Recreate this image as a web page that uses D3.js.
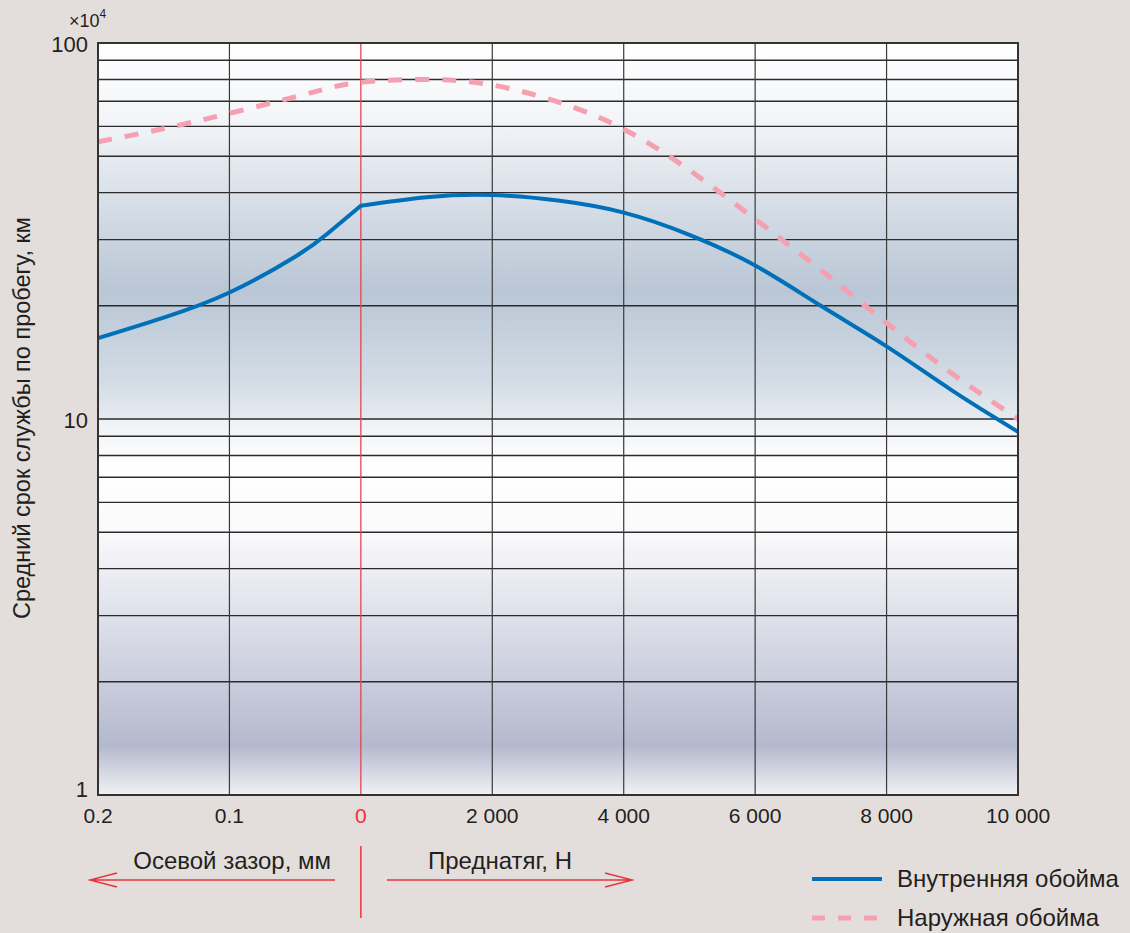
<!DOCTYPE html>
<html lang="ru">
<head>
<meta charset="utf-8">
<title>Срок службы</title>
<script src="https://d3js.org/d3.v7.min.js"></script>
<style>
  body{margin:0;background:#e3dedb;font-family:"Liberation Sans",Arial,Helvetica,sans-serif;}
  svg{display:block;}
</style>
</head>
<body>
<div id="chart"></div>
<script>
// clearance side (mm)
var clearMm     = [0.2, 0.15, 0.1, 0.05, 0.025, 0]
var innerClear  = [16.4, 18.6, 21.7, 27.0, 31.2, 36.9]
var outerClear  = [54.6, 59.2, 65.0, 71.9, 75.8, 78.6]

// preload side (N)
var preloadN     = [0, 1000, 2000, 3000, 4000, 5000, 6000, 7000, 8000, 9000, 10000]
var innerPreload = [36.9, 38.9, 39.4, 38.1, 35.4, 30.9, 25.6, 20.0, 15.6, 11.9, 9.25]
var outerPreload = [78.6, 80.0, 77.3, 69.7, 59.0, 45.9, 34.0, 24.9, 18.0, 13.2, 10.0]

var clearTicks   = [0.2, 0.1]
var preloadTicks = [0, 2000, 4000, 6000, 8000, 10000]
var preloadLabels = ["0", "2 000", "4 000", "6 000", "8 000", "10 000"]
var yTicks = [1, 10, 100]

var W = 1130, H = 933
var mL = 98, mR = 1018, mT = 43, mB = 795

var svg = d3.select("#chart").append("svg").attr("width", W).attr("height", H)

var xClear = d3.scaleLinear().domain([0.2, 0]).range([mL, mL + (mR - mL) * 2 / 7])
var xPre = d3.scaleLinear().domain([0, 10000]).range([xClear(0), mR])
var y = d3.scaleLog().domain([1, 100]).range([mB, mT])

// gradient bands, one per decade
var defs = svg.append("defs")
var g1 = defs.append("linearGradient").attr("id", "band1").attr("x1", 0).attr("x2", 0).attr("y1", 0).attr("y2", 1)
g1.append("stop").attr("offset", 0).attr("stop-color", "#ffffff")
g1.append("stop").attr("offset", 0.2).attr("stop-color", "#f3f5f8")
g1.append("stop").attr("offset", 0.66).attr("stop-color", "#b9c6d5")
g1.append("stop").attr("offset", 0.9).attr("stop-color", "#d3dce6")
g1.append("stop").attr("offset", 1).attr("stop-color", "#e6ebf0")
var g2 = defs.append("linearGradient").attr("id", "band2").attr("x1", 0).attr("x2", 0).attr("y1", 0).attr("y2", 1)
g2.append("stop").attr("offset", 0).attr("stop-color", "#eef1f5")
g2.append("stop").attr("offset", 0.12).attr("stop-color", "#ffffff")
g2.append("stop").attr("offset", 0.3).attr("stop-color", "#fafafc")
g2.append("stop").attr("offset", 0.87).attr("stop-color", "#b4b9ce")
g2.append("stop").attr("offset", 1).attr("stop-color", "#f1f2f5")

svg.append("rect").attr("x", mL).attr("y", y(100)).attr("width", mR - mL)
  .attr("height", y(10) - y(100)).attr("fill", "url(#band1)")
svg.append("rect").attr("x", mL).attr("y", y(10)).attr("width", mR - mL)
  .attr("height", y(1) - y(10)).attr("fill", "url(#band2)")

// horizontal grid: 1..100 log steps
var grid = []
for (var d = 1; d < 100; d *= 10) {
  for (var k = 1; k < 10; k++) grid.push(d * k)
}
svg.selectAll(".hgrid").data(grid.filter(function(v){ return v > 1 }))
  .enter().append("line")
  .attr("x1", mL).attr("x2", mR)
  .attr("y1", function(v){ return y(v) }).attr("y2", function(v){ return y(v) })
  .attr("stroke", "#2b2b2b").attr("stroke-width", 1.4)

// vertical grid
var vx = clearTicks.map(function(v){ return xClear(v) })
  .concat(preloadTicks.map(function(v){ return xPre(v) }))
svg.selectAll(".vgrid").data(vx.slice(1, -1))
  .enter().append("line")
  .attr("x1", function(d){ return d }).attr("x2", function(d){ return d })
  .attr("y1", mT).attr("y2", mB)
  .attr("stroke", function(d){ return d === xPre(0) ? "#e8434c" : "#3a3a3a" })
  .attr("stroke-width", function(d){ return d === xPre(0) ? 1.3 : 1.2 })

// curves
var line = d3.line().x(function(d){ return d[0] }).y(function(d){ return y(d[1]) })
  .curve(d3.curveNatural)
function pts(xs, vals, sc){ return xs.map(function(v, i){ return [sc(v), vals[i]] }) }

var outerPts = pts(clearMm, outerClear, xClear).concat(pts(preloadN, outerPreload, xPre).slice(1))
svg.append("path").attr("d", line(outerPts))
  .attr("fill", "none").attr("stroke", "#f5a0b0").attr("stroke-width", 5)
  .attr("stroke-dasharray", "14,13")

// inner ring has a corner at zero, so two pieces joined
var innerD = line(pts(clearMm, innerClear, xClear)) + "L" + line(pts(preloadN, innerPreload, xPre)).slice(1)
svg.append("path").attr("d", innerD)
  .attr("fill", "none").attr("stroke", "#0070b8").attr("stroke-width", 4)

// frame
svg.append("rect").attr("x", mL).attr("y", mT).attr("width", mR - mL).attr("height", mB - mT)
  .attr("fill", "none").attr("stroke", "#333").attr("stroke-width", 2)

// y tick labels
svg.selectAll(".ylab").data(yTicks).enter().append("text")
  .attr("x", 88).attr("y", function(v){ return v === 1 ? 797 : y(v) + 9 })
  .attr("text-anchor", "end").attr("font-size", 22).attr("fill", "#231f20")
  .text(function(v){ return v })
var exp = svg.append("text").attr("x", 69).attr("y", 27).attr("text-anchor", "start")
  .attr("font-size", 18).attr("fill", "#231f20")
exp.append("tspan").text("×10")
exp.append("tspan").attr("font-size", 12).attr("dy", -9).text("4")

// x tick labels
svg.selectAll(".xlab1").data(clearTicks).enter().append("text")
  .attr("x", function(v){ return xClear(v) }).attr("y", 823)
  .attr("text-anchor", "middle").attr("font-size", 21).attr("fill", "#231f20")
  .text(function(v){ return v })
svg.selectAll(".xlab2").data(preloadTicks).enter().append("text")
  .attr("x", function(v){ return xPre(v) }).attr("y", 823)
  .attr("text-anchor", "middle").attr("font-size", 21)
  .attr("fill", function(v){ return v === 0 ? "#e8343f" : "#231f20" })
  .text(function(v, i){ return preloadLabels[i] })

// y axis title
svg.append("text").attr("transform", "translate(30,418) rotate(-90)")
  .attr("text-anchor", "middle").attr("font-size", 23.5).attr("fill", "#231f20")
  .text("Средний срок службы по пробегу, км")

// direction arrows
var red = "#e8343f"
var x0 = xPre(0)
svg.append("line").attr("x1", x0).attr("x2", x0).attr("y1", 846).attr("y2", 918)
  .attr("stroke", red).attr("stroke-width", 1.5)
svg.append("text").attr("x", 331).attr("y", 869).attr("text-anchor", "end")
  .attr("font-size", 24).attr("fill", "#231f20").text("Осевой зазор, мм")
svg.append("text").attr("x", 428).attr("y", 869).attr("text-anchor", "start")
  .attr("font-size", 24).attr("fill", "#231f20").text("Преднатяг, Н")
svg.append("path").attr("d", "M335,880H90M117,873L90,880L117,887")
  .attr("fill", "none").attr("stroke", red).attr("stroke-width", 1.5)
svg.append("path").attr("d", "M387,880H632M605,873L632,880L605,887")
  .attr("fill", "none").attr("stroke", red).attr("stroke-width", 1.5)

// legend
var legend = [
  {name: "Внутренняя обойма", color: "#0070b8", dash: null, w: 4},
  {name: "Наружная обойма", color: "#f5a0b0", dash: "13,13", w: 5}
]
var lg = svg.selectAll(".leg").data(legend).enter().append("g")
  .attr("transform", function(d, i){ return "translate(812," + (879 + i * 39) + ")" })
lg.append("line").attr("x1", 0).attr("x2", 70)
  .attr("stroke", function(d){ return d.color }).attr("stroke-width", function(d){ return d.w })
  .attr("stroke-dasharray", function(d){ return d.dash })
lg.append("text").attr("x", 85).attr("y", 8).attr("font-size", 24).attr("fill", "#231f20")
  .text(function(d){ return d.name })
</script>
</body>
</html>
